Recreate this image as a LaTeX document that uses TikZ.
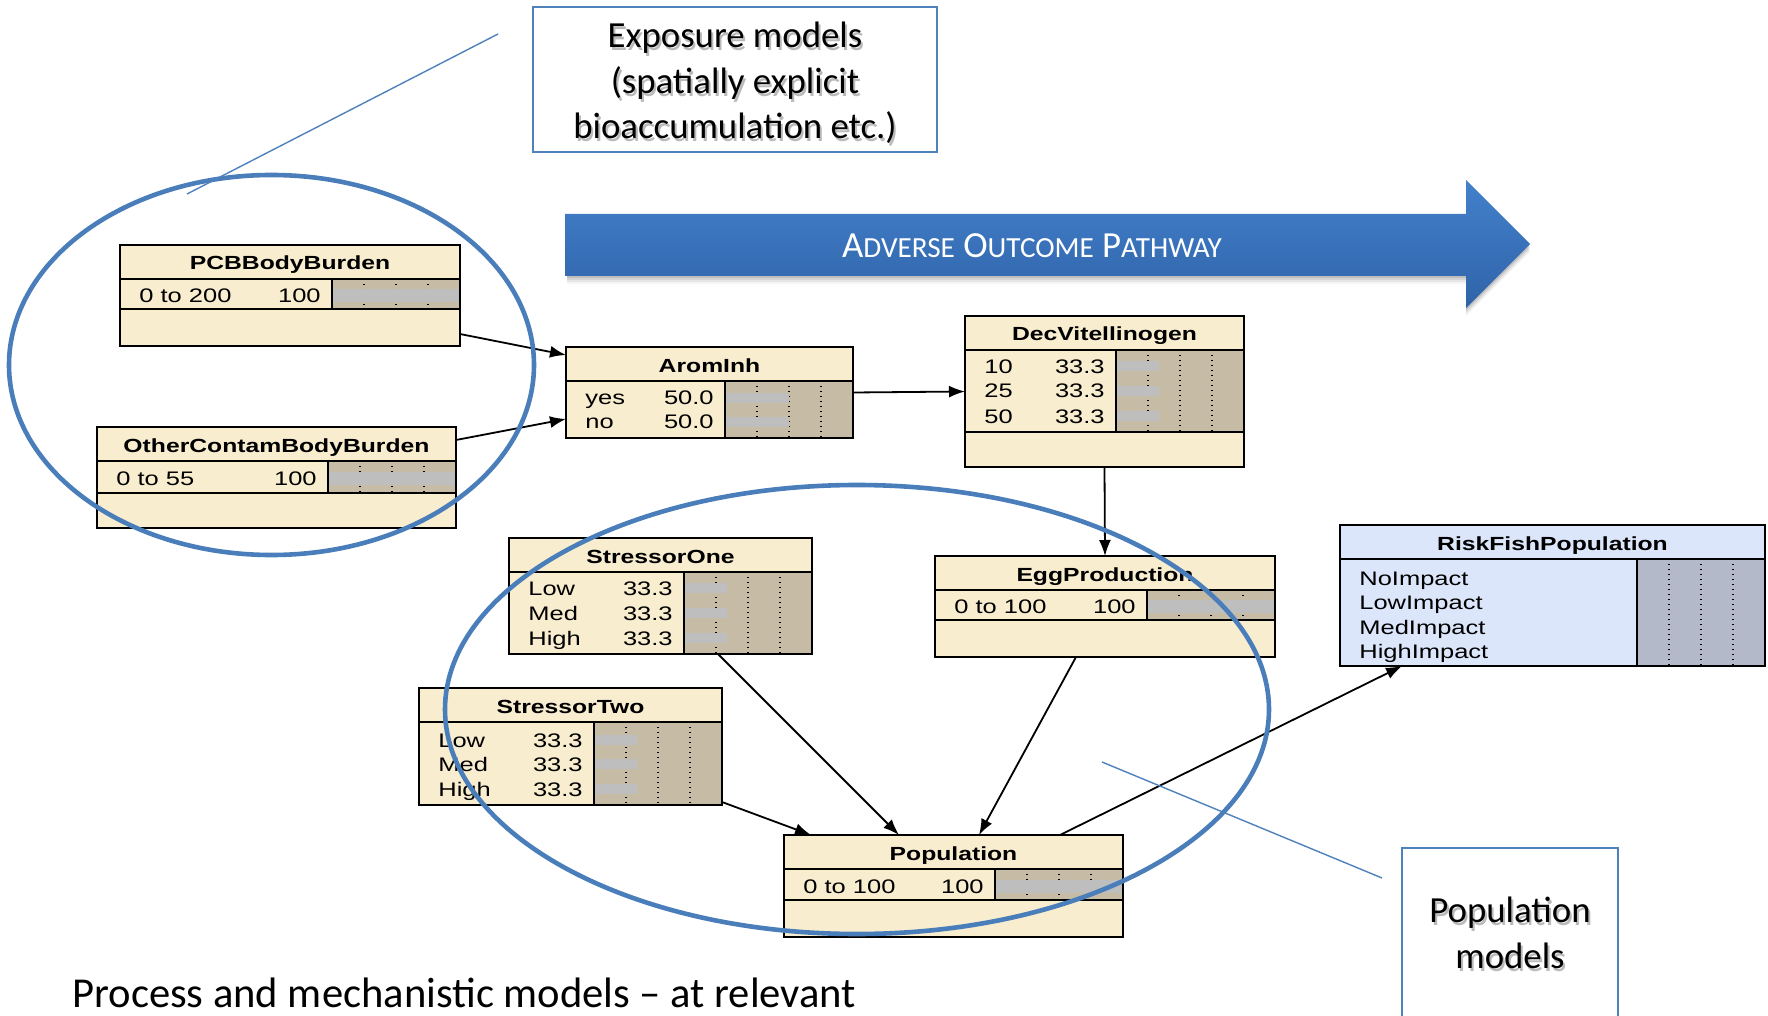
\documentclass[tikz,border=0pt]{standalone}
\usepackage{fontspec}
\setmainfont{Carlito}
\newfontfamily\netfont[FakeStretch=1.3]{Liberation Sans}
\usetikzlibrary{arrows.meta,calc}

\definecolor{bncream}{HTML}{F8EDCF}
\definecolor{bntan}{HTML}{C6BCA6}
\definecolor{bngray}{HTML}{BEBEBE}
\definecolor{bnblue}{HTML}{DCE6FA}
\definecolor{bnslate}{HTML}{B4B9CA}
\definecolor{calloutblue}{HTML}{4F81BD}
\definecolor{ringblue}{HTML}{4A7EBB}
\definecolor{aoptop}{HTML}{4381CC}
\definecolor{aopbot}{HTML}{2F63A8}

\tikzset{
  bnframe/.style={draw=black, line width=1pt, inner sep=0pt, outer sep=0pt},
  cream body/.style={fill=bncream},
  cream bar/.style={fill=bntan},
  blue body/.style={fill=bnblue},
  blue bar/.style={fill=bnslate},
  bnline/.style={draw=black, line width=1pt},
  bnedge/.style={draw=black, line width=1.4pt},
  bndots/.style={draw=black, line width=0.7pt, dash pattern=on 0.7pt off 1.8pt},
  bntext/.style={font=\netfont\fontsize{9.8pt}{11pt}\selectfont, inner sep=0pt},
  bntitle/.style={font=\netfont\bfseries\fontsize{9.5pt}{11pt}\selectfont, inner sep=0pt},
  bnarrow/.style={draw=black, line width=0.9pt, -{Latex[length=8pt,width=6pt]}},
  ring/.style={draw=ringblue, line width=2.3pt},
  pointer/.style={draw=calloutblue, line width=0.7pt},
  calloutbox/.style={draw=calloutblue, line width=0.9pt, fill=white, inner sep=0pt, outer sep=0pt},
  callouttext/.style={align=center, inner sep=0pt, font=\fontsize{18.4pt}{22.8pt}\selectfont},
  aoptext/.style={text=white, inner sep=0pt},
}

% one Bayesian-network node: name, x, y, width, height, bottom of state rows, title, colour scheme
\newcommand\bnbox[8]{%
  \pgfmathsetmacro\bnleft{#2}%
  \pgfmathsetmacro\bnright{#2+#4}%
  \pgfmathsetmacro\bnbarx{#2+#4-128}%
  \pgfmathsetmacro\bntop{#3+34}%
  \pgfmathsetmacro\bnbot{#3+#6}%
  \def\bnname{#1}%
  \node[bnframe, #8 body, anchor=north west, minimum width=#4*0.5pt, minimum height=#5*0.5pt] (#1) at (#2,#3) {};
  \draw[bnline] (#2,\bntop) -- (\bnright,\bntop);
  \draw[bnline] (#2,\bnbot) -- (\bnright,\bnbot);
  \fill[#8 bar] (\bnbarx,\bntop) rectangle (\bnright,\bnbot);
  \foreach \f in {0.25,0.5,0.75} \draw[bndots] (\bnbarx+128*\f,\bntop) -- (\bnbarx+128*\f,\bnbot);
  \draw[bnedge] (\bnbarx,\bntop) rectangle (\bnright,\bnbot);
  \node[bntitle, anchor=base] (#1-title) at (#2+#4/2, #3+25) {#7};
}
% one state row with its belief bar: index, baseline, label, value, percent, bar half height
\newcommand\bnrow[6]{%
  \node[bntext, anchor=base west] (\bnname-l#1) at (\bnleft+19, #2) {#3};
  \node[bntext, anchor=base east] (\bnname-v#1) at (\bnbarx-11, #2) {#4};
  \fill[bngray] (\bnbarx, #2-7-#6) rectangle (\bnbarx+1.28*#5, #2-7+#6);
  \draw[bnedge] (\bnbarx,\bntop) rectangle (\bnright,\bnbot);
}
% a state label without a belief value
\newcommand\bnstate[3]{%
  \node[bntext, anchor=base west] (\bnname-l#1) at (\bnleft+19, #2) {#3};
}
\newcommand\smallcapword[2]{{\fontsize{18.4pt}{20pt}\selectfont #1}{\fontsize{14.6pt}{16pt}\selectfont #2}}

\begin{document}
\begin{tikzpicture}[x=0.5pt, y=-0.5pt]
\useasboundingbox (0,0) rectangle (1768,1016);
\fill[white] (0,0) rectangle (1768,1016);

% pathway arrow with a soft shadow
\foreach \d/\o in {2/0.10,4/0.08,6/0.06,8/0.04}{
  \fill[black, opacity=\o, shift={(0,\d)}] (567,214) -- (1466,214) -- (1466,180) -- (1530,244) -- (1466,308) -- (1466,276) -- (567,276) -- cycle;
}
\shade[top color=aoptop, bottom color=aopbot] (565,214) -- (1466,214) -- (1466,180) -- (1530,244) -- (1466,308) -- (1466,276) -- (565,276) -- cycle;
\node[aoptext, anchor=base] (aop-label) at (1032,258)
  {\smallcapword{A}{DVERSE}\fontsize{18.4pt}{20pt}\selectfont\ \smallcapword{O}{UTCOME}\fontsize{18.4pt}{20pt}\selectfont\ \smallcapword{P}{ATHWAY}};

% network nodes
\bnbox{pcb}{120}{245}{340}{101}{64}{PCBBodyBurden}{cream}
\bnrow{1}{303}{0 to 200}{100}{100}{6.5}

\bnbox{other}{97}{427}{359}{101}{66}{OtherContamBodyBurden}{cream}
\bnrow{1}{485}{0 to 55}{100}{100}{6.5}

\bnbox{arom}{566}{347}{287}{91}{91}{AromInh}{cream}
\bnrow{1}{405}{yes}{50.0}{50}{5}
\bnrow{2}{429}{no}{50.0}{50}{5}

\bnbox{dec}{965}{316}{279}{151}{116}{DecVitellinogen}{cream}
\bnrow{1}{373}{10}{33.3}{33.3}{5}
\bnrow{2}{398}{25}{33.3}{33.3}{5}
\bnrow{3}{423}{50}{33.3}{33.3}{5}

\bnbox{s1}{509}{538}{303}{116}{116}{StressorOne}{cream}
\bnrow{1}{595}{Low}{33.3}{33.3}{5}
\bnrow{2}{620}{Med}{33.3}{33.3}{5}
\bnrow{3}{645}{High}{33.3}{33.3}{5}

\bnbox{s2}{419}{688}{303}{117}{117}{StressorTwo}{cream}
\bnrow{1}{747}{Low}{33.3}{33.3}{5}
\bnrow{2}{771}{Med}{33.3}{33.3}{5}
\bnrow{3}{796}{High}{33.3}{33.3}{5}

\bnbox{egg}{935}{556}{340}{101}{64}{EggProduction}{cream}
\bnrow{1}{613}{0 to 100}{100}{100}{6.5}

\bnbox{pop}{784}{835}{339}{102}{65}{Population}{cream}
\bnrow{1}{893}{0 to 100}{100}{100}{6.5}

\bnbox{risk}{1340}{525}{425}{141}{141}{RiskFishPopulation}{blue}
\bnstate{1}{585}{NoImpact}
\bnstate{2}{609}{LowImpact}
\bnstate{3}{634}{MedImpact}
\bnstate{4}{658}{HighImpact}

% causal links
\draw[bnarrow] ($(pcb.south east)+(0,-12)$) -- ($(arom.north west)+(0,8)$);
\draw[bnarrow] ($(other.north east)+(0,13)$) -- ($(arom.south west)+(0,-19)$);
\draw[bnarrow] (arom.east) -- (dec.west);
\draw[bnarrow] (dec.south) -- (egg.north);
\draw[bnarrow] ($(s1.south west)+(209,0)$) -- ($(pop.north west)+(115,0)$);
\draw[bnarrow] ($(egg.south west)+(141,0)$) -- ($(pop.north west)+(195,0)$);
\draw[bnarrow] ($(s2.south east)+(0,-3)$) -- ($(pop.north west)+(27,0)$);
\draw[bnarrow] ($(pop.north west)+(276,0)$) -- ($(risk.south west)+(62,0)$);

% model groupings
\draw[ring] (271.5,365) ellipse [x radius=131.25pt, y radius=95pt];
\draw[ring] (857,709.5) ellipse [x radius=206pt, y radius=112.25pt];

% exposure callout
\node[calloutbox, anchor=north west, minimum width=404*0.5pt, minimum height=145*0.5pt] (expo) at (533,7) {};
\node[callouttext, text=black!45, opacity=0.6] (expo-shadow) at (737,86) {Exposure models\\(spatially explicit\\bioaccumulation etc.)};
\node[callouttext] (expo-text) at (735,83) {Exposure models\\(spatially explicit\\bioaccumulation etc.)};
\coordinate (expo-tail) at (498,34);
\coordinate (expo-ring) at (187,194);
\draw[pointer] (expo-tail) -- (expo-ring);

% population callout
\node[calloutbox, anchor=north west, minimum width=216*0.5pt, minimum height=175*0.5pt] (popm) at (1402,848) {};
\node[callouttext, text=black!45, opacity=0.6] (popm-shadow) at (1512,936) {Population\\models};
\node[callouttext] (popm-text) at (1510,933) {Population\\models};
\coordinate (popm-ring) at (1102,762);
\coordinate (popm-tail) at (1382,878);
\draw[pointer] (popm-ring) -- (popm-tail);

% caption
\node[anchor=base west, inner sep=0pt, font=\fontsize{21.3pt}{24pt}\selectfont] (caption) at (72,1007) {Process and mechanistic models – at relevant};
\end{tikzpicture}
\end{document}
